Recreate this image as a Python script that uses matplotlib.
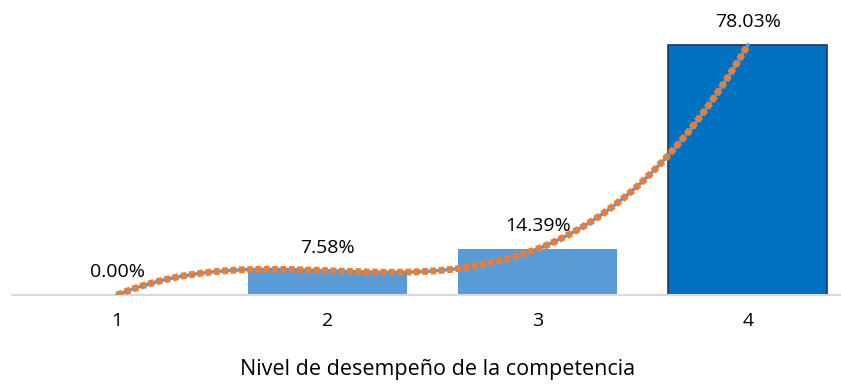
import numpy as np
import matplotlib.pyplot as plt

# data
niveles = [1, 2, 3, 4]
porcentajes = [0.00, 7.58, 14.39, 78.03]
etiquetas = ['0.00%', '7.58%', '14.39%', '78.03%']
colores = ['#5B9BD5', '#5B9BD5', '#5B9BD5', '#0070C0']
bordes = ['none', 'none', 'none', '#1F3864']

plt.rcParams['font.family'] = ['Open Sans', 'DejaVu Sans']

fig = plt.figure(figsize=(8.41, 3.85), dpi=100)
# axes: x from 12px (0.5) to 853px (4.5), baseline at 295px
ax = fig.add_axes([12 / 841, 90 / 385, 841 / 841, 288.4 / 385])

bars = ax.bar(niveles, porcentajes, width=0.757, color=colores,
              edgecolor=bordes, linewidth=1.2, zorder=2)

# polynomial trendline (order 3) through the data
coef = np.polyfit(niveles, porcentajes, 3)
xs = np.linspace(1, 4, 300)
ys = np.polyval(coef, xs)
ax.plot(xs, ys, color='#5B9BD5', linewidth=2.5, zorder=3)
ax.plot(xs, ys, color='#ED7D31', linewidth=5, linestyle=(0, (0.8, 0.4)),
        dash_capstyle='butt', zorder=4)

for x, v, t in zip(niveles, porcentajes, etiquetas):
    ax.annotate(t, (x, v), xytext=(0, 10), textcoords='offset points',
                ha='center', va='bottom', fontsize=14, color='#000000')

ax.set_xlim(0.5, 4.5)
ax.set_ylim(0, 90)
ax.set_yticks([])
ax.set_xticks(niveles)
ax.set_xticklabels([str(n) for n in niveles], fontsize=14)
ax.tick_params(axis='x', length=0, pad=12)
for s in ['top', 'right', 'left']:
    ax.spines[s].set_visible(False)
ax.spines['bottom'].set_color('#D9D9D9')
ax.spines['bottom'].set_linewidth(1.5)

fig.text(438 / 841, 1 - 370 / 385, 'Nivel de desempeño de la competencia',
         ha='center', va='center', fontsize=15.5)

fig.savefig('out.png', dpi=100)
